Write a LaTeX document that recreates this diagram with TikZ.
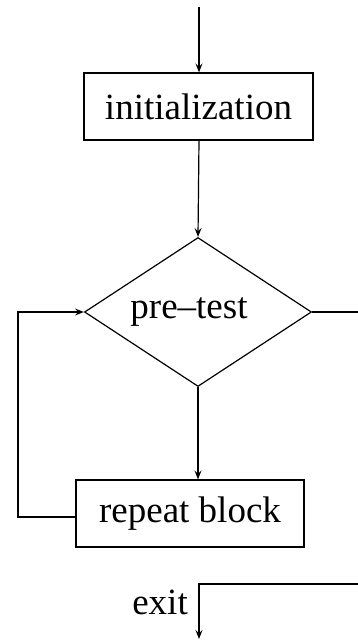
\documentclass[tikz,border=0pt]{standalone}
\usepackage{fontspec}
\setmainfont{Liberation Serif}
\usetikzlibrary{shapes.geometric,arrows.meta}
\tikzset{
  box/.style={draw, line width=1.2pt, inner sep=0pt, font=\fontsize{37}{40}\selectfont},
  decide/.style={draw, diamond, line width=1.2pt, inner sep=0pt, font=\fontsize{37}{40}\selectfont},
  conn/.style={line width=1.2pt},
  arr/.style={conn, -{Stealth[length=9pt,width=7pt,inset=3.5pt]}},
  lbl/.style={inner sep=0pt, font=\fontsize{37}{40}\selectfont}
}
\begin{document}
\begin{tikzpicture}[x=1pt,y=-1pt]
\useasboundingbox (0,0) rectangle (358,640);
\coordinate (start) at (199,7);
\node[box, minimum width=229pt, minimum height=67pt] (init) at (198.5,106.5) {initialization};
\node[decide, minimum width=227pt, minimum height=149pt] (test) at (198,312) {};
\node[lbl] (testlbl) at (189,312) {pre–test};
\node[box, minimum width=228pt, minimum height=67pt] (rep) at (190,513.5) {repeat block};
\coordinate (out) at (358,312);
\coordinate (loopstart) at (76,517);
\coordinate (in) at (358,584);
\coordinate (corner) at (199,584);
\coordinate (end) at (199,639);
\node[lbl, anchor=east] (exitlbl) at (188,602) {exit};

\draw[arr] (start) -- (init.north -| start);
\draw[arr] (init.south -| start) -- (test.north);
\draw[arr] (test.south) -- (rep.north -| test.south);
\draw[arr] (loopstart) -- (18,517) -- (18,312) -- (test.west);
\draw[conn] (test.east) -- (out);
\draw[arr] (in) -- (corner) -- (end);
\end{tikzpicture}
\end{document}
